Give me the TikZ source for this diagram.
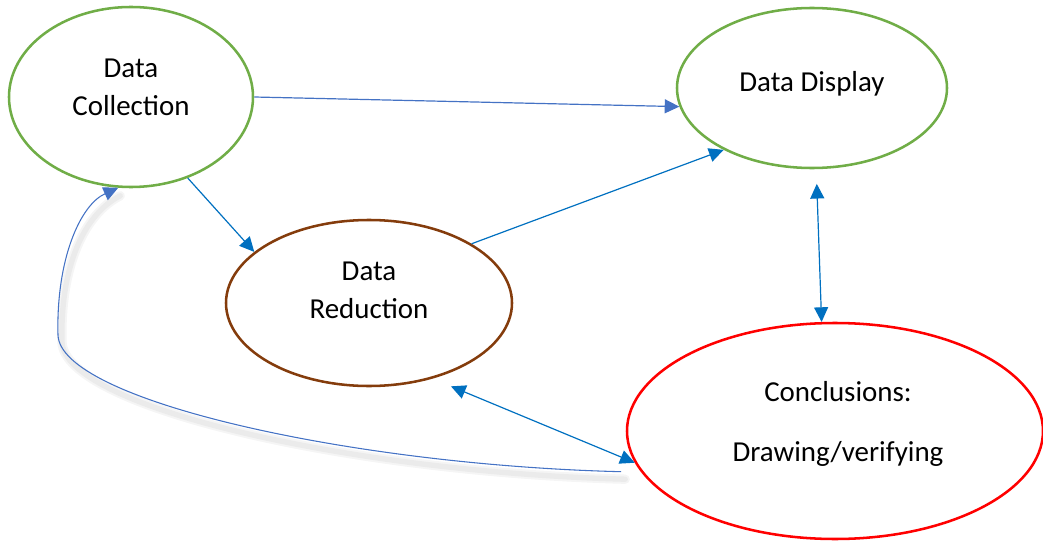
\documentclass[tikz,border=0pt]{standalone}
\usepackage{fontspec}
\setmainfont{Carlito}
\usetikzlibrary{calc}
\usetikzlibrary{arrows.meta}
\usetikzlibrary{shapes.geometric}
\definecolor{lgreen}{HTML}{70AD47}
\definecolor{brwn}{HTML}{843C0C}
\definecolor{arrblue}{HTML}{0070C0}
\definecolor{curvblue}{HTML}{4472C4}

\begin{document}
\begin{tikzpicture}[x=0.75pt,y=-0.75pt,
 oval/.style={ellipse, draw, line width=1.9pt, inner sep=0},
 txt/.style={align=center, font=\fontsize{21.7}{28.5}\selectfont},
 link/.style={arrblue, line width=0.9pt, -{Triangle[length=11pt,width=10.5pt]}},
 dlink/.style={link, {Triangle[length=11pt,width=10.5pt]}-{Triangle[length=11pt,width=10.5pt]}}]
\useasboundingbox (0,0) rectangle (1043,542);
\node[oval, lgreen, minimum width=244*0.75pt, minimum height=180*0.75pt] (coll) at (131,97) {};
\node[oval, lgreen, minimum width=270*0.75pt, minimum height=160*0.75pt] (disp) at (812,88) {};
\node[oval, brwn, minimum width=286*0.75pt, minimum height=166*0.75pt] (redu) at (369,303) {};
\node[oval, red, minimum width=416*0.75pt, minimum height=216*0.75pt] (concl) at (835,431) {};
\node[txt] (coll-t) at (131,87) {Data\\Collection};
\node[txt] (disp-t) at (812,84) {Data Display};
\node[txt] (redu-t) at (369,290) {Data\\Reduction};
\node[txt] (concl-t) at (838,424) {Conclusions:\\[16pt]Drawing/verifying};
\draw[link, curvblue] (coll.east) -- (disp.188);
\draw[link] (coll.-55) -- (redu.156);
\draw[link] (redu.30) -- (disp.215);
\draw[dlink, shorten <=11pt] (disp.-87) -- (concl.97);
\draw[dlink, shorten <=15pt] (redu.-50) -- (concl.189);
\foreach \w/\c in {7/black!4, 4/black!8} {
\draw[\c, line width=\w pt, line cap=round] ($(concl.192)+(-16,7)$) .. controls (350,472) and (64,407) .. (62,342) .. controls (60,267) and (84,214) .. ($(coll.-98)+(2,8)$);
}
\draw[curvblue, line width=0.8pt, -{Triangle[length=11pt,width=10.5pt]}, shorten <=15pt] (concl.192) .. controls (350,465) and (60,400) .. (58,335) .. controls (56,260) and (80,205) .. (coll.-98);
\end{tikzpicture}
\end{document}
